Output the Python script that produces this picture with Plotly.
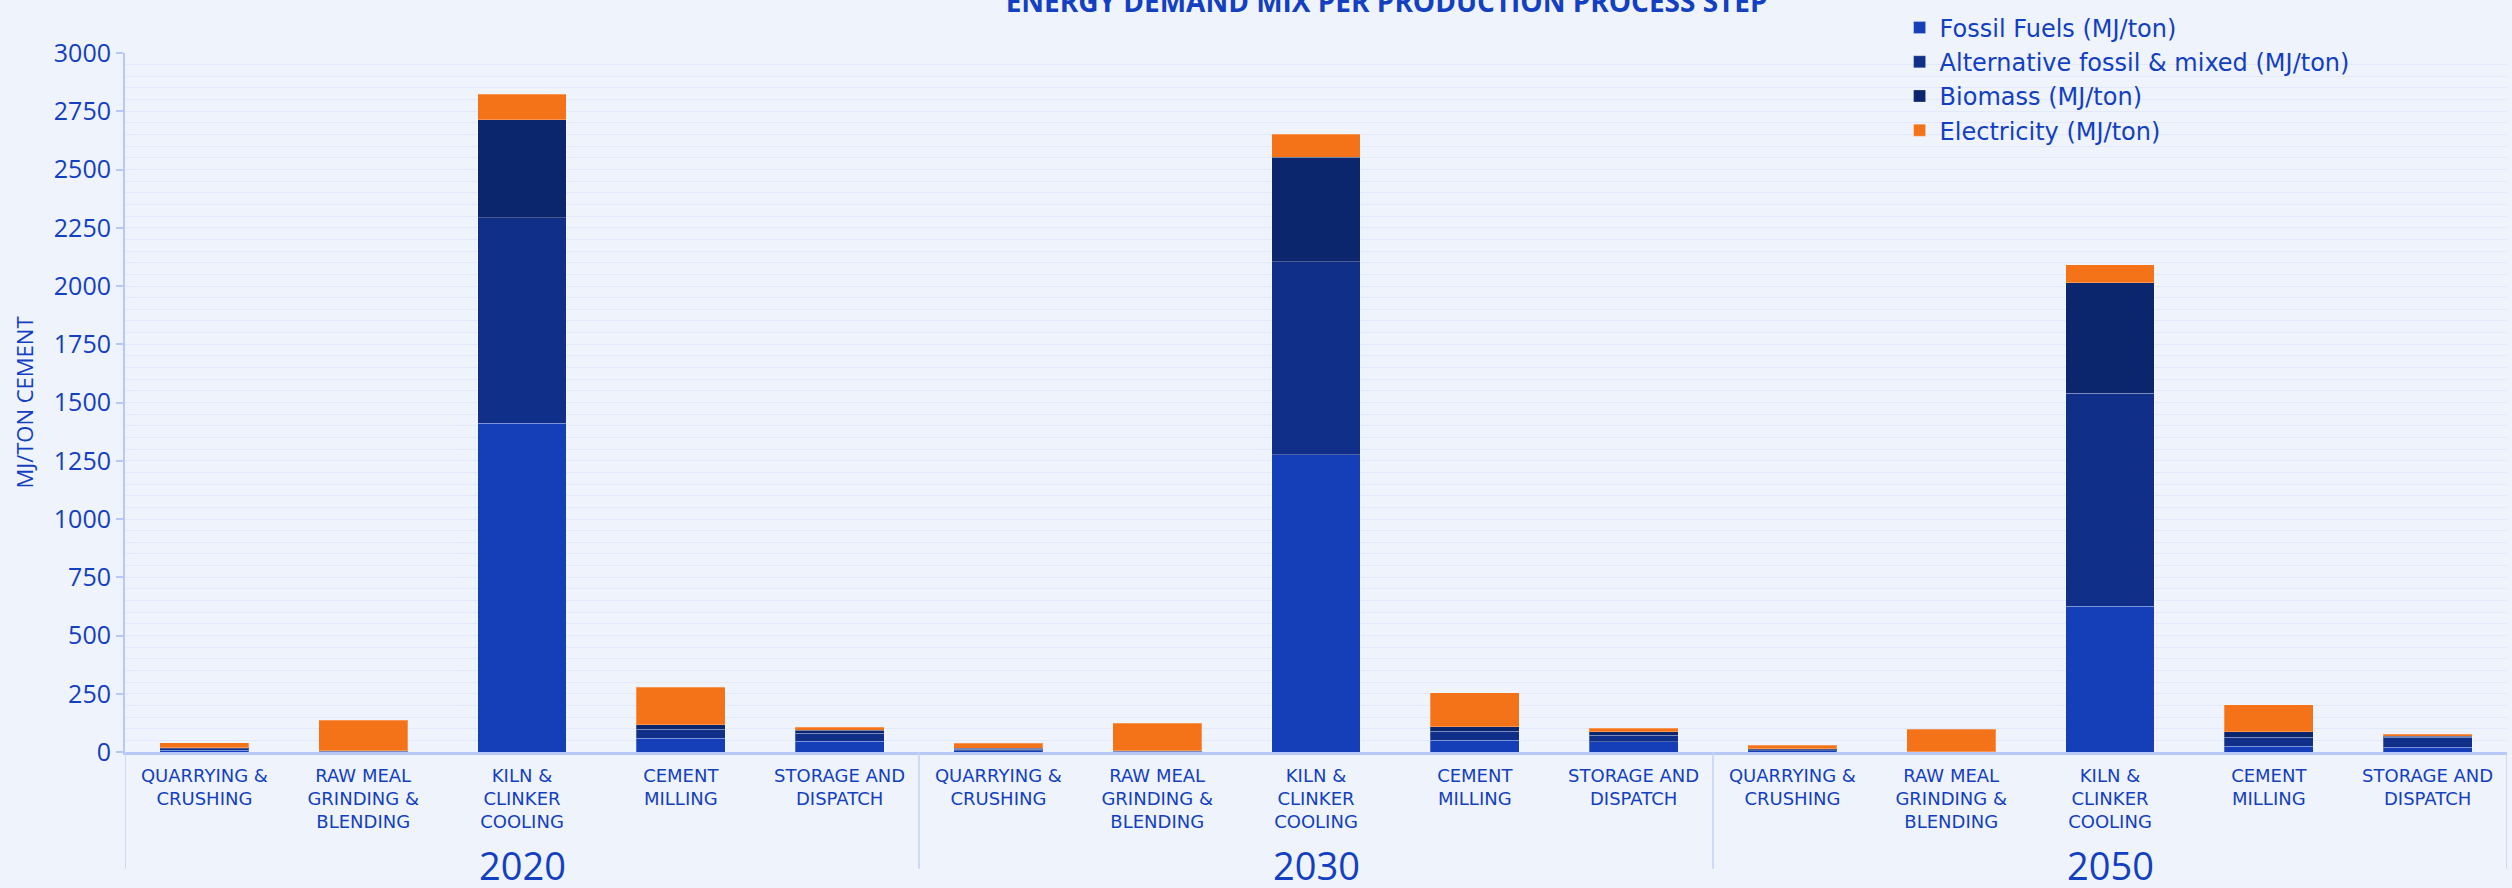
import plotly.graph_objects as go

years = ["2020", "2030", "2050"]
steps = ["QUARRYING &<br>CRUSHING", "RAW MEAL<br>GRINDING &<br>BLENDING",
         "KILN &<br>CLINKER<br>COOLING", "CEMENT<br>MILLING", "STORAGE AND<br>DISPATCH"]

series_names = ["Fossil Fuels (MJ/ton)", "Alternative fossil & mixed (MJ/ton)",
                "Biomass (MJ/ton)", "Electricity (MJ/ton)"]

# values ordered: 2020 steps, 2030 steps, 2050 steps
fossil = [7, 1, 1411, 59, 47,   6, 1, 1275, 51, 43,   5, 0, 625, 24, 20]
alt_fossil = [6, 2, 883, 39, 34,   6, 2, 829, 39, 28,   5, 1, 914, 39, 43]
biomass = [5, 2, 420, 18, 13,   5, 2, 449, 18, 16,   4, 1, 474, 23, 5]
electricity = [22, 131, 109, 161, 13,   21, 119, 99, 147, 14,   15, 96, 79, 116, 9]

colors = ["#153FB8", "#102F88", "#0C266D", "#F47318"]
text_col = "#1340C0"
bg = "#EFF3FB"
axis_col = "#B6C9F6"

n = len(steps)
xpos = list(range(len(years) * n))
ticktext = steps * len(years)

fig = go.Figure()
for name, vals, col in zip(series_names, [fossil, alt_fossil, biomass, electricity], colors):
    fig.add_trace(go.Bar(x=xpos, y=vals, name=name, marker_color=col,
                         marker_line=dict(color="rgba(255,255,255,0.25)", width=1)))

# group dividers and year labels
for g, yr in enumerate(years):
    fig.add_annotation(x=g * n + (n - 1) / 2, y=-0.162, xref="x", yref="paper",
                       text=yr, showarrow=False, yanchor="middle",
                       font=dict(size=38, color=text_col, family="Open Sans"))
for b in range(len(years) + 1):
    fig.add_shape(type="line", xref="x", yref="paper", x0=b * n - 0.5, x1=b * n - 0.5,
                  y0=0, y1=-0.167, line=dict(color="#C3D3F5", width=1.5))

fig.update_layout(
    barmode="stack",
    bargap=0.44,
    width=2512, height=888,
    paper_bgcolor=bg, plot_bgcolor=bg,
    margin=dict(l=125, r=5, t=51, b=136),
    title=dict(text="<b>ENERGY DEMAND MIX PER PRODUCTION PROCESS STEP</b>",
               x=0.552, xanchor="center", y=0.998, yanchor="middle",
               font=dict(size=28, color=text_col, family="Open Sans")),
    legend=dict(x=0.745, xanchor="left", y=1.068, yanchor="top", traceorder="normal",
                font=dict(size=24, color=text_col, family="DejaVu Sans"),
                bgcolor="rgba(0,0,0,0)", tracegroupgap=0, itemwidth=30),
    font=dict(family="Open Sans", color=text_col),
)
fig.update_yaxes(range=[0, 3000], dtick=250, tick0=0,
                 tickfont=dict(size=25, color=text_col, family="Open Sans"),
                 showgrid=True, gridcolor="#E1E9FB", gridwidth=1,
                 minor=dict(dtick=50, showgrid=True, gridcolor="#E1E9FB", gridwidth=1),
                 showline=True, linecolor=axis_col, linewidth=2,
                 ticks="outside", ticklen=7, tickcolor=axis_col, tickwidth=2,
                 zeroline=False,
                 title=dict(text="MJ/TON CEMENT", standoff=14,
                            font=dict(size=22, color=text_col, family="Open Sans")))
fig.update_xaxes(range=[-0.5, len(xpos) - 0.5], tickmode="array", tickvals=xpos,
                 ticktext=ticktext, tickangle=0,
                 tickfont=dict(size=18, color=text_col, family="DejaVu Sans"),
                 showline=True, linecolor=axis_col, linewidth=3, ticks="",
                 ticklabelstandoff=5, showgrid=False)

fig.write_html("out.html")
